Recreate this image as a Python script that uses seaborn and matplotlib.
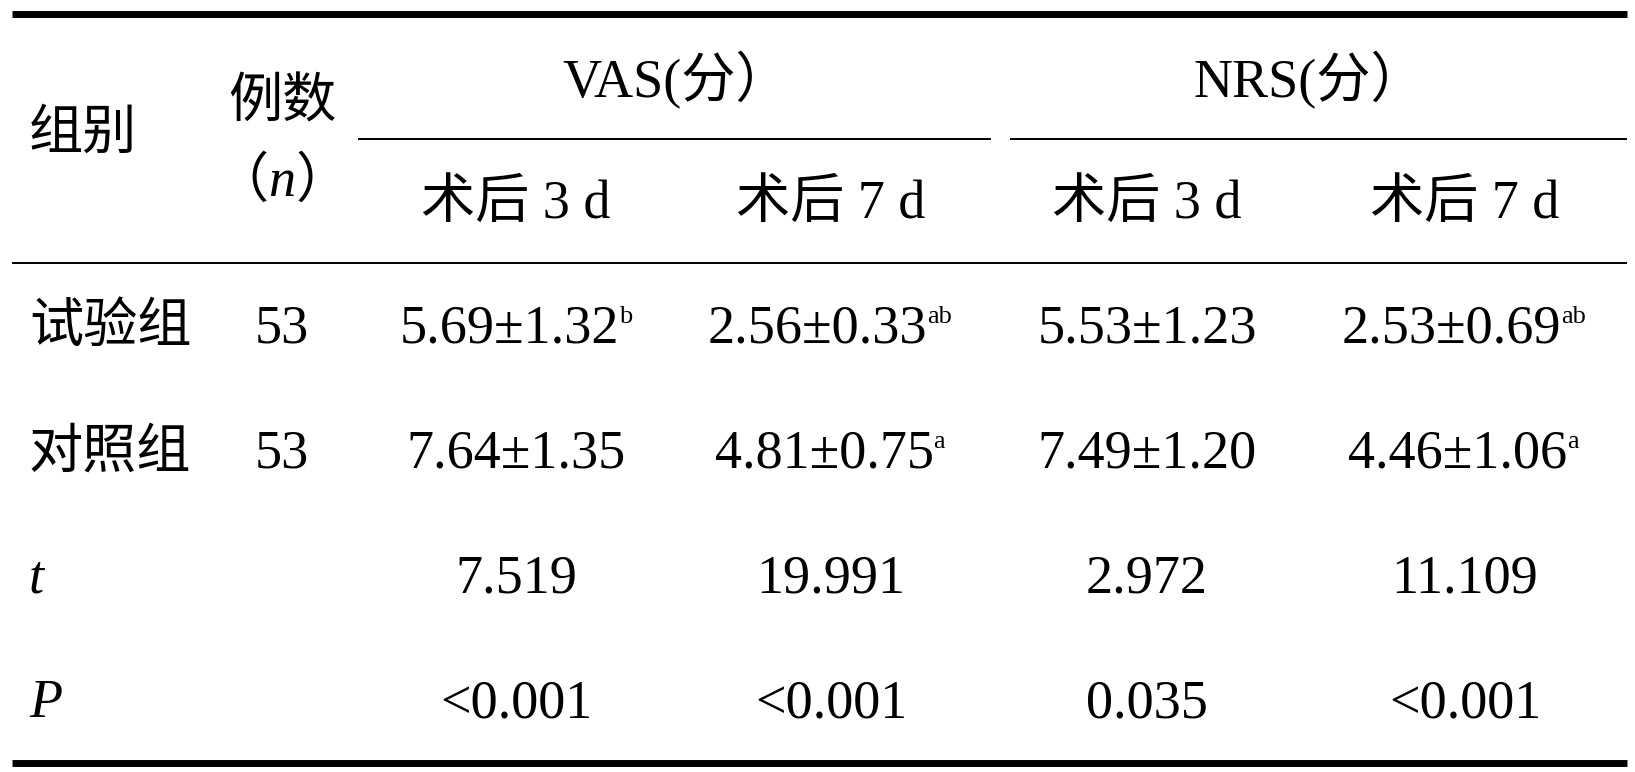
import matplotlib
matplotlib.use("Agg")
import matplotlib.pyplot as plt
import seaborn as sns

# table content
groups = ["试验组", "对照组"]
cases = ["53", "53"]
sub_headers = ["术后 3 d", "术后 7 d", "术后 3 d", "术后 7 d"]
span_headers = ["VAS(分）", "NRS(分）"]
trial_vals = ["5.69±1.32", "2.56±0.33", "5.53±1.23", "2.53±0.69"]
trial_sup = ["b", "ab", "", "ab"]
control_vals = ["7.64±1.35", "4.81±0.75", "7.49±1.20", "4.46±1.06"]
control_sup = ["", "a", "", "a"]
t_vals = ["7.519", "19.991", "2.972", "11.109"]
p_vals = ["<0.001", "<0.001", "0.035", "<0.001"]

sns.set_theme(style="white")
plt.rcParams['font.family'] = ['Liberation Serif', 'Noto Sans CJK SC', 'DejaVu Sans']
plt.rcParams['text.color'] = 'black'

W, H = 1635, 772
fig = plt.figure(figsize=(W / 100, H / 100), dpi=100)
ax = fig.add_axes([0, 0, 1, 1])
ax.set_xlim(0, W)
ax.set_ylim(H, 0)
ax.axis("off")

fs = 39
sup_fs = 19
left_x = 29
n_x = 282
col_x = [516, 831, 1147, 1465]
row_y = [329, 454, 579, 704]

# rules
ax.hlines(14, 12, 1627, color="black", lw=5)
ax.hlines(763, 12, 1627, color="black", lw=5)
ax.hlines(263, 12, 1627, color="black", lw=1.4)
ax.hlines(139, 358, 991, color="black", lw=1.4)
ax.hlines(139, 1010, 1627, color="black", lw=1.4)

# header
ax.text(left_x, 136, "组别", fontsize=fs, ha="left", va="center")
ax.text(n_x, 104, "例数", fontsize=fs, ha="center", va="center")
ax.text(n_x - 14, 183, "（", fontsize=fs, ha="right", va="center")
ax.text(n_x, 183, "n", fontsize=fs, style="italic", ha="center", va="center")
ax.text(n_x + 14, 183, "）", fontsize=fs, ha="left", va="center")
ax.text(676, 80, span_headers[0], fontsize=fs, ha="center", va="center")
ax.text(1309, 80, span_headers[1], fontsize=fs, ha="center", va="center")
for x, s in zip(col_x, sub_headers):
    ax.text(x, 205, s, fontsize=fs, ha="center", va="center")


def cell(x, y, s, sup=""):
    shift = 7 * len(sup)
    t = ax.text(x - shift, y, s, fontsize=fs, ha="center", va="center")
    if sup:
        ax.annotate(sup, xy=(1.0, 0.95), xycoords=t, fontsize=sup_fs,
                    ha="left", va="top")


rows = [(groups[0], cases[0], trial_vals, trial_sup),
        (groups[1], cases[1], control_vals, control_sup)]
for (g, n, vals, sups), y in zip(rows, row_y[:2]):
    ax.text(left_x, y, g, fontsize=fs, ha="left", va="center")
    ax.text(n_x, y, n, fontsize=fs, ha="center", va="center")
    for x, v, s in zip(col_x, vals, sups):
        cell(x, y, v, s)

ax.text(left_x, row_y[2], "t", fontsize=fs, style="italic", ha="left", va="center")
ax.text(left_x, row_y[3], "P", fontsize=fs, style="italic", ha="left", va="center")
for x, v in zip(col_x, t_vals):
    cell(x, row_y[2], v)
for x, v in zip(col_x, p_vals):
    cell(x, row_y[3], v)

plt.savefig("out.png", dpi=100, facecolor="white")
